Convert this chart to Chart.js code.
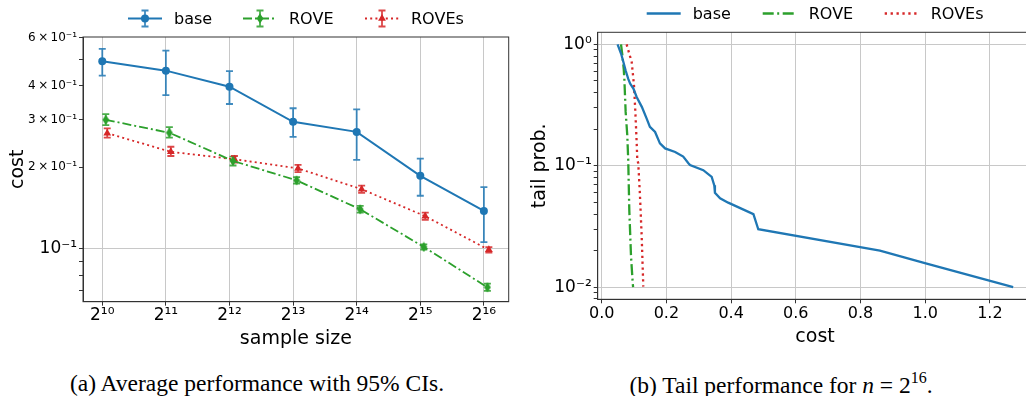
<!DOCTYPE html>
<html>
<head>
<meta charset="utf-8">
<script src="https://cdn.jsdelivr.net/npm/chart.js@4.4.1/dist/chart.umd.min.js"></script>
<style>
  body { margin: 0; width: 1026px; height: 396px; overflow: hidden; background: #fff; position: relative; }
  #left { position: absolute; left: 0; top: 0; }
  #right { position: absolute; left: 520px; top: 0; }
  .cap { position: absolute; font-family: "Liberation Serif", "Times New Roman", serif; font-size: 23.5px; line-height: 28px;
         color: #000; white-space: nowrap; transform: translateX(-50%); }
  .cap sup { font-size: 16px; line-height: 0; vertical-align: 10px; }
</style>
</head>
<body>
<canvas id="left" width="520" height="352"></canvas>
<canvas id="right" width="520" height="352"></canvas>
<div class="cap" style="left:257px; top:369px">(a) Average performance with 95% CIs.</div>
<div class="cap" style="left:781px; top:371px">(b) Tail performance for <i>n</i> = 2<sup>16</sup>.</div>
<script>
// left panel: average cost vs sample size (x = log2 of sample size)
const sampleExp = [10, 11, 12, 13, 14, 15, 16];
const sampleLabels = ['2¹⁰', '2¹¹', '2¹²', '2¹³', '2¹⁴', '2¹⁵', '2¹⁶'];

const baseMean = [0.492, 0.454, 0.396, 0.294, 0.270, 0.186, 0.138];
const baseLow  = [0.435, 0.369, 0.342, 0.259, 0.213, 0.157, 0.106];
const baseHigh = [0.546, 0.538, 0.452, 0.330, 0.327, 0.215, 0.169];

const roveMean = [0.299, 0.268, 0.211, 0.179, 0.140, 0.1017, 0.0722];
const roveLow  = [0.286, 0.257, 0.203, 0.174, 0.136, 0.0995, 0.0700];
const roveHigh = [0.314, 0.281, 0.219, 0.184, 0.144, 0.1040, 0.0745];

const rovesMean = [0.267, 0.228, 0.214, 0.198, 0.166, 0.132, 0.0992];
const rovesLow  = [0.257, 0.220, 0.208, 0.192, 0.161, 0.128, 0.0970];
const rovesHigh = [0.278, 0.238, 0.220, 0.204, 0.171, 0.136, 0.1015];

const costTicksLeft = [0.07, 0.08, 0.09, 0.1, 0.2, 0.3, 0.4, 0.5, 0.6];
const costLabelsLeft = ['', '', '', '10⁻¹', '2\u2009×\u200910⁻¹', '3\u2009×\u200910⁻¹', '4\u2009×\u200910⁻¹', '', '6\u2009×\u200910⁻¹'];

// right panel: tail probability vs cost for n = 2^16
const baseCost = [0.049, 0.060, 0.067, 0.074, 0.082, 0.088, 0.098, 0.108, 0.124, 0.139, 0.149, 0.165, 0.180,
                  0.196, 0.227, 0.252, 0.268, 0.273, 0.314, 0.340, 0.348, 0.350, 0.366, 0.391, 0.469, 0.484,
                  0.860, 0.999, 1.272];
const baseTail = [1.0, 0.838, 0.716, 0.61, 0.52, 0.475, 0.433, 0.369, 0.306, 0.245, 0.209, 0.19, 0.153,
                  0.139, 0.130, 0.119, 0.105, 0.1013, 0.092, 0.081, 0.069, 0.060, 0.054, 0.0497, 0.040, 0.030,
                  0.020, 0.0158, 0.010];
const roveCost = [0.0597, 0.064, 0.068, 0.070, 0.074, 0.079, 0.082, 0.0853, 0.0906, 0.0958, 0.097];
const roveTail = [1.0, 0.81, 0.63, 0.52, 0.278, 0.179, 0.111, 0.043, 0.0179, 0.0109, 0.010];
const rovesCost = [0.077, 0.0927, 0.0998, 0.104, 0.108, 0.110, 0.113, 0.118, 0.1236, 0.1286];
const rovesTail = [1.0, 0.716, 0.46, 0.278, 0.157, 0.111, 0.105, 0.059, 0.0261, 0.0101];

const costTicksRight = [0, 0.2, 0.4, 0.6, 0.8, 1.0, 1.2];
const costLabelsRight = ['0.0', '0.2', '0.4', '0.6', '0.8', '1.0', '1.2'];
const tailTicks = [0.008, 0.009, 0.01, 0.02, 0.03, 0.04, 0.05, 0.06, 0.07, 0.08, 0.09,
                   0.1, 0.2, 0.3, 0.4, 0.5, 0.6, 0.7, 0.8, 0.9, 1];
const tailLabels = tailTicks.map(v => v === 1 ? '10⁰' : v === 0.1 ? '10⁻¹' : v === 0.01 ? '10⁻²' : '');

const blue = '#1f77b4';
const green = '#2ca02c';
const red = '#d62728';
const gridColor = '#c8c8c8';
const axisColor = '#333';

Chart.defaults.font.family = '"DejaVu Sans", sans-serif';
Chart.defaults.color = '#000';

function thinDiamond(color) {
    const c = document.createElement('canvas');
    c.width = 8;
    c.height = 11;
    const g = c.getContext('2d');
    g.fillStyle = color;
    g.beginPath();
    g.moveTo(4, 0.5);
    g.lineTo(7.5, 5.5);
    g.lineTo(4, 10.5);
    g.lineTo(0.5, 5.5);
    g.closePath();
    g.fill();
    return c;
}
const roveMarker = thinDiamond(green);

const errorBars = {
    id: 'errorBars',
    beforeDatasetsDraw(chart) {
        const {ctx, scales: {x, y}} = chart;
        chart.data.datasets.forEach(ds => {
            if (!ds.low) return;
            ctx.save();
            ctx.strokeStyle = ds.borderColor;
            ctx.globalAlpha = 0.85;
            ctx.lineWidth = 1.8;
            ds.data.forEach((p, i) => {
                const px = x.getPixelForValue(p.x);
                const top = y.getPixelForValue(ds.high[i]);
                const bot = y.getPixelForValue(ds.low[i]);
                ctx.beginPath();
                ctx.moveTo(px, top); ctx.lineTo(px, bot);
                ctx.moveTo(px - 3.5, top); ctx.lineTo(px + 3.5, top);
                ctx.moveTo(px - 3.5, bot); ctx.lineTo(px + 3.5, bot);
                ctx.stroke();
            });
            ctx.restore();
        });
    }
};

const frame = {
    id: 'frame',
    afterDraw(chart) {
        const a = chart.chartArea;
        const ctx = chart.ctx;
        ctx.save();
        ctx.strokeStyle = axisColor;
        ctx.lineWidth = 1;
        ctx.strokeRect(a.left, a.top, a.right - a.left, a.bottom - a.top);
        ctx.restore();
    }
};

// matplotlib-like legend handles, drawn on top of the canvas
function handLegend(items, y) {
    return {
        id: 'handLegend',
        afterDraw(chart) {
            const ctx = chart.ctx;
            items.forEach((it, i) => {
                const ds = chart.data.datasets[i];
                ctx.save();
                ctx.strokeStyle = ds.borderColor;
                ctx.fillStyle = ds.borderColor;
                ctx.lineWidth = ds.borderWidth;
                ctx.setLineDash(ds.borderDash || []);
                ctx.beginPath();
                ctx.moveTo(it.x, y);
                ctx.lineTo(it.x + 34, y);
                ctx.stroke();
                ctx.setLineDash([]);
                if (it.err) {
                    const cx = it.x + 17;
                    ctx.globalAlpha = 0.85;
                    ctx.lineWidth = 1.8;
                    ctx.beginPath();
                    ctx.moveTo(cx, y - 8); ctx.lineTo(cx, y + 8);
                    ctx.moveTo(cx - 3.5, y - 8); ctx.lineTo(cx + 3.5, y - 8);
                    ctx.moveTo(cx - 3.5, y + 8); ctx.lineTo(cx + 3.5, y + 8);
                    ctx.stroke();
                    ctx.globalAlpha = 1;
                    Chart.helpers.drawPoint(ctx, {pointStyle: ds.pointStyle, radius: ds.pointRadius, rotation: 0, borderWidth: 0}, cx, y);
                }
                ctx.fillStyle = '#000';
                ctx.font = '16px "DejaVu Sans"';
                ctx.textBaseline = 'middle';
                ctx.fillText(ds.label, it.x + 46, y + 1);
                ctx.restore();
            });
        }
    };
}

const majorGrid = (ticks, majors) => ctx =>
    ctx.tick && majors.includes(ctx.tick.value) ? gridColor : 'rgba(0,0,0,0)';

new Chart(document.getElementById('left'), {
    type: 'line',
    data: {
        datasets: [
            {
                label: 'base',
                data: sampleExp.map((e, i) => ({x: e, y: baseMean[i]})),
                low: baseLow, high: baseHigh,
                borderColor: blue, backgroundColor: blue, borderWidth: 2,
                pointStyle: 'circle', pointRadius: 4, pointBorderWidth: 0
            },
            {
                label: 'ROVE',
                data: sampleExp.map((e, i) => ({x: e + 0.055, y: roveMean[i]})),
                low: roveLow, high: roveHigh,
                borderColor: green, backgroundColor: green, borderWidth: 1.8, borderDash: [9, 3, 2, 3],
                pointStyle: roveMarker, pointRadius: 4, pointBorderWidth: 0
            },
            {
                label: 'ROVEs',
                data: sampleExp.map((e, i) => ({x: e + 0.078, y: rovesMean[i]})),
                low: rovesLow, high: rovesHigh,
                borderColor: red, backgroundColor: red, borderWidth: 1.8, borderDash: [2, 3.2],
                pointStyle: 'triangle', pointRadius: 4.5, pointBorderWidth: 0
            }
        ]
    },
    options: {
        responsive: false,
        animation: false,
        devicePixelRatio: 1,
        layout: {padding: {top: 37, right: 11.3, bottom: 0, left: 0}},
        plugins: {legend: {display: false}, tooltip: {enabled: false}},
        scales: {
            x: {
                type: 'linear', min: 9.697, max: 16.39,
                afterBuildTicks: s => { s.ticks = sampleExp.map(v => ({value: v})); },
                afterFit: s => { s.height = 50.3; },
                ticks: {callback: (v, i) => sampleLabels[i], font: {size: 17}, padding: 0, maxRotation: 0, autoSkip: false},
                grid: {color: gridColor, lineWidth: 1, tickLength: 4, tickColor: axisColor, tickWidth: 1},
                border: {color: axisColor},
                title: {display: true, text: 'sample size', font: {size: 19}, padding: {top: 0, bottom: 1.6}}
            },
            y: {
                type: 'logarithmic', min: 0.0639, max: 0.604,
                afterBuildTicks: s => { s.ticks = costTicksLeft.map(v => ({value: v})); },
                afterFit: s => { s.width = 83; },
                ticks: {
                    callback: (v, i) => costLabelsLeft[i],
                    font: ctx => ({size: costLabelsLeft[ctx.index] === '10⁻¹' ? 17 : 12}),
                    padding: 2, autoSkip: false
                },
                grid: {color: majorGrid(costTicksLeft, [0.1]), lineWidth: 1, tickLength: 4, tickColor: axisColor, tickWidth: 1},
                border: {color: axisColor},
                title: {display: true, text: 'cost', font: {size: 19}, padding: {top: 6.6, bottom: 0}}
            }
        }
    },
    plugins: [errorBars, frame, handLegend([{x: 128, err: true}, {x: 243, err: true}, {x: 365, err: true}], 18.5)]
});

new Chart(document.getElementById('right'), {
    type: 'scatter',
    data: {
        datasets: [
            {
                label: 'base',
                data: baseCost.map((c, i) => ({x: c, y: baseTail[i]})),
                showLine: true, borderColor: blue, borderWidth: 2.3, pointRadius: 0
            },
            {
                label: 'ROVE',
                data: roveCost.map((c, i) => ({x: c, y: roveTail[i]})),
                showLine: true, borderColor: green, borderWidth: 2.3, borderDash: [11, 3.5, 2, 3.5], pointRadius: 0
            },
            {
                label: 'ROVEs',
                data: rovesCost.map((c, i) => ({x: c, y: rovesTail[i]})),
                showLine: true, borderColor: red, borderWidth: 2.3, borderDash: [2.3, 3.6], pointRadius: 0
            }
        ]
    },
    options: {
        responsive: false,
        animation: false,
        devicePixelRatio: 1,
        layout: {padding: {top: 32.3, right: 7.6, bottom: 0, left: 0}},
        plugins: {legend: {display: false}, tooltip: {enabled: false}},
        scales: {
            x: {
                type: 'linear', min: -0.0124, max: 1.3314,
                afterBuildTicks: s => { s.ticks = costTicksRight.map(v => ({value: v})); },
                afterFit: s => { s.height = 52.7; },
                ticks: {callback: (v, i) => costLabelsRight[i], font: {size: 16}, padding: 1, maxRotation: 0, autoSkip: false},
                grid: {color: gridColor, lineWidth: 1, tickLength: 4, tickColor: axisColor, tickWidth: 1},
                border: {color: axisColor},
                title: {display: true, text: 'cost', font: {size: 19}, padding: {top: 0, bottom: 3.9}}
            },
            y: {
                type: 'logarithmic', min: 0.00794, max: 1.259,
                afterBuildTicks: s => { s.ticks = tailTicks.map(v => ({value: v})); },
                afterFit: s => { s.width = 77.7; },
                ticks: {callback: (v, i) => tailLabels[i], font: {size: 17}, padding: 2, autoSkip: false},
                grid: {color: majorGrid(tailTicks, [0.01, 0.1, 1]), lineWidth: 1, tickLength: 4, tickColor: axisColor, tickWidth: 1},
                border: {color: axisColor},
                title: {display: true, text: 'tail prob.', font: {size: 19}, padding: {top: 8.6, bottom: 0}}
            }
        }
    },
    plugins: [frame, handLegend([{x: 126.7}, {x: 242.7}, {x: 364.7}], 13.5)]
});
</script>
</body>
</html>
